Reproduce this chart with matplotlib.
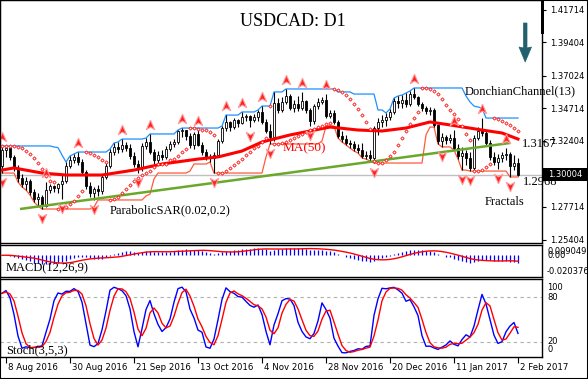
import numpy as np
import pandas as pd
import matplotlib
matplotlib.use("Agg")
import matplotlib.pyplot as plt
from matplotlib.path import Path
from matplotlib.patches import Rectangle, Polygon
import matplotlib.transforms as mtransforms

# ---------------- data (USDCAD D1, 5 Aug 2016 .. 2 Feb 2017) ----------------
opens = [1.3062,1.3175,1.3189,1.3126,1.3048,1.2977,1.2934,1.2956,1.2878,1.2828,
         1.2842,1.2778,1.2892,1.2920,1.2906,1.2934,1.2956,1.3062,1.3104,1.3126,
         1.3090,1.3019,1.2920,1.2870,1.2899,1.2885,1.2984,1.3062,1.3161,1.3197,
         1.3182,1.3211,1.3189,1.3133,1.3076,1.3048,1.3204,1.3232,1.3161,1.3104,
         1.3140,1.3126,1.3182,1.3218,1.3232,1.3310,1.3317,1.3275,1.3211,1.3289,
         1.3211,1.3161,1.3126,1.3119,1.3140,1.3239,1.3331,1.3374,1.3338,1.3388,
         1.3367,1.3409,1.3416,1.3388,1.3409,1.3445,1.3374,1.3310,1.3267,1.3509,
         1.3459,1.3516,1.3558,1.3473,1.3501,1.3473,1.3523,1.3459,1.3381,1.3487,
         1.3516,1.3530,1.3416,1.3438,1.3374,1.3275,1.3253,1.3225,1.3218,1.3189,
         1.3175,1.3133,1.3140,1.3119,1.3331,1.3374,1.3388,1.3409,1.3445,1.3523,
         1.3509,1.3530,1.3501,1.3572,1.3551,1.3501,1.3473,1.3452,1.3459,1.3353,
         1.3239,1.3267,1.3246,1.3260,1.3189,1.3133,1.3154,1.3119,1.3048,1.3260,
         1.3310,1.3296,1.3225,1.3126,1.3090,1.3119,1.3140,1.3147,1.3062,1.3083]
highs = [1.3204,1.3197,1.3192,1.3140,1.3069,1.3005,1.2984,1.2970,1.2899,1.2870,
         1.2856,1.2948,1.2934,1.2927,1.2941,1.2998,1.3090,1.3133,1.3147,1.3161,
         1.3111,1.3033,1.2948,1.2913,1.2927,1.2998,1.3083,1.3182,1.3225,1.3232,
         1.3253,1.3232,1.3218,1.3161,1.3104,1.3225,1.3260,1.3289,1.3182,1.3168,
         1.3175,1.3204,1.3239,1.3253,1.3317,1.3331,1.3317,1.3296,1.3303,1.3317,
         1.3232,1.3182,1.3147,1.3161,1.3253,1.3345,1.3423,1.3381,1.3402,1.3395,
         1.3445,1.3431,1.3423,1.3431,1.3459,1.3487,1.3395,1.3360,1.3587,1.3544,
         1.3551,1.3608,1.3572,1.3530,1.3558,1.3587,1.3530,1.3473,1.3501,1.3544,
         1.3551,1.3572,1.3459,1.3459,1.3388,1.3310,1.3282,1.3246,1.3239,1.3218,
         1.3225,1.3168,1.3175,1.3345,1.3402,1.3423,1.3438,1.3466,1.3544,1.3558,
         1.3565,1.3579,1.3594,1.3615,1.3558,1.3516,1.3487,1.3480,1.3473,1.3360,
         1.3296,1.3282,1.3289,1.3317,1.3218,1.3197,1.3175,1.3161,1.3282,1.3338,
         1.3402,1.3317,1.3246,1.3161,1.3147,1.3161,1.3189,1.3161,1.3140,1.3119]
lows = [1.3012,1.3126,1.3104,1.3026,1.2948,1.2913,1.2892,1.2856,1.2807,1.2778,
        1.2757,1.2771,1.2870,1.2878,1.2870,1.2828,1.2941,1.3048,1.3083,1.3069,
        1.2998,1.2899,1.2842,1.2821,1.2849,1.2863,1.2970,1.3048,1.3140,1.3154,
        1.3161,1.3168,1.3111,1.3055,1.3012,1.3026,1.3182,1.3147,1.3076,1.3076,
        1.3104,1.3111,1.3168,1.3197,1.3218,1.3267,1.3246,1.3189,1.3182,1.3204,
        1.3140,1.3104,1.3090,1.3012,1.3126,1.3225,1.3310,1.3310,1.3324,1.3338,
        1.3360,1.3381,1.3338,1.3374,1.3381,1.3360,1.3296,1.3218,1.3239,1.3438,
        1.3445,1.3501,1.3459,1.3445,1.3452,1.3459,1.3438,1.3345,1.3360,1.3466,
        1.3501,1.3402,1.3402,1.3360,1.3260,1.3232,1.3211,1.3189,1.3168,1.3154,
        1.3119,1.3111,1.3097,1.3083,1.3282,1.3338,1.3345,1.3388,1.3431,1.3473,
        1.3473,1.3480,1.3487,1.3537,1.3487,1.3452,1.3431,1.3423,1.3338,1.3218,
        1.3197,1.3218,1.3225,1.3175,1.3111,1.3033,1.3069,1.3026,1.3033,1.3246,
        1.3275,1.3211,1.3104,1.3069,1.3041,1.3090,1.3104,1.2984,1.3033,1.2991]
closes = [1.3175,1.3189,1.3126,1.3048,1.2977,1.2934,1.2956,1.2878,1.2828,1.2842,
          1.2778,1.2892,1.2920,1.2906,1.2934,1.2956,1.3062,1.3104,1.3126,1.3090,
          1.3019,1.2920,1.2870,1.2899,1.2885,1.2984,1.3062,1.3161,1.3197,1.3182,
          1.3211,1.3189,1.3133,1.3076,1.3048,1.3204,1.3232,1.3161,1.3104,1.3140,
          1.3126,1.3182,1.3218,1.3232,1.3310,1.3317,1.3275,1.3211,1.3289,1.3211,
          1.3161,1.3126,1.3119,1.3140,1.3239,1.3331,1.3374,1.3338,1.3388,1.3367,
          1.3409,1.3416,1.3388,1.3409,1.3445,1.3374,1.3310,1.3267,1.3509,1.3459,
          1.3516,1.3558,1.3473,1.3501,1.3473,1.3523,1.3459,1.3381,1.3487,1.3516,
          1.3530,1.3416,1.3438,1.3374,1.3275,1.3253,1.3225,1.3218,1.3189,1.3175,
          1.3133,1.3140,1.3119,1.3331,1.3374,1.3388,1.3409,1.3445,1.3523,1.3509,
          1.3530,1.3501,1.3572,1.3551,1.3501,1.3473,1.3452,1.3459,1.3353,1.3239,
          1.3267,1.3246,1.3260,1.3189,1.3133,1.3154,1.3119,1.3048,1.3260,1.3310,
          1.3296,1.3225,1.3126,1.3090,1.3119,1.3140,1.3147,1.3062,1.3083,1.30004]

# MA(50) at selected bars
ma_idx = [0, 3, 10, 16, 25, 33, 40, 49, 54, 60, 65, 72, 82, 89, 95, 101, 107, 112, 120, 125, 129]
ma_vals = [1.3033, 1.3048, 1.3012, 1.2998, 1.2998, 1.3033, 1.3076, 1.3111, 1.3126, 1.3168,
           1.3232, 1.3282, 1.3338, 1.3317, 1.3310, 1.3331, 1.3374, 1.3353, 1.3317, 1.3296, 1.3253]

# fractal bars
up_fractals = [0, 11, 19, 30, 37, 45, 49, 56, 60, 65, 71, 75, 81, 103, 113, 120, 126]
down_fractals = [0, 10, 15, 23, 34, 53, 62, 67, 77, 93, 110, 115, 117, 124, 127]

# green support line
trend_idx = [4.5, 127]
trend_vals = [1.2757, 1.3225]

price_ticks = [1.41714, 1.39404, 1.37024, 1.34714, 1.32404, 1.27714, 1.25404]
current_price = 1.30004
date_idx = [1, 17, 33, 49, 65, 81, 97, 113, 129]
date_labels = ["8 Aug 2016", "30 Aug 2016", "21 Sep 2016", "13 Oct 2016", "4 Nov 2016",
               "28 Nov 2016", "20 Dec 2016", "11 Jan 2017", "2 Feb 2017"]

# ---------------- indicators ----------------
O = np.array(opens); Hh = np.array(highs); Ll = np.array(lows); C = np.array(closes)
n = len(C)
x = np.arange(n)
hs, ls, cs = pd.Series(Hh), pd.Series(Ll), pd.Series(C)

don_up = hs.rolling(13, min_periods=1).max().values
don_lo = ls.rolling(13, min_periods=1).min().values

def psar(h, l, step=0.02, mx=0.2):
    s = np.zeros(len(h))
    bull = False
    af = step; ep = l[0]; s[0] = h[0]
    for i in range(1, len(h)):
        v = s[i-1] + af * (ep - s[i-1])
        if bull:
            v = min(v, l[i-1], l[max(i-2, 0)])
            if l[i] < v:
                bull = False; v = ep; ep = l[i]; af = step
            elif h[i] > ep:
                ep = h[i]; af = min(af + step, mx)
        else:
            v = max(v, h[i-1], h[max(i-2, 0)])
            if h[i] > v:
                bull = True; v = ep; ep = h[i]; af = step
            elif l[i] < ep:
                ep = l[i]; af = min(af + step, mx)
        s[i] = v
    return s

sar = psar(Hh, Ll)

ema12 = cs.ewm(span=12, adjust=False).mean()
ema26 = cs.ewm(span=26, adjust=False).mean()
macd = (ema12 - ema26).values
macd_sig = pd.Series(macd).rolling(9, min_periods=1).mean().values

ll5 = ls.rolling(5, min_periods=1).min()
hh5 = hs.rolling(5, min_periods=1).max()
num = (cs - ll5).rolling(3, min_periods=1).sum()
den = (hh5 - ll5).rolling(3, min_periods=1).sum()
st_main = (100 * num / den).values
st_sig = pd.Series(st_main).rolling(3, min_periods=1).mean().values

# ---------------- figure ----------------
W, H = 588, 379
fig = plt.figure(figsize=(W/100, H/100), dpi=100)

def rect(x0, y0, x1, y1):
    return [x0/W, 1 - y1/H, (x1-x0)/W, (y1-y0)/H]

def fx(v): return v / W
def fy(v): return 1 - v / H

serif = "Liberation Serif"
PX = 0.000709
TOP = 1.42388

ax = fig.add_axes(rect(0, 0, 542, 243))
ax.set_xlim(-0.5, 135)
ax.set_ylim(TOP - PX*243, TOP)

ax.axhline(current_price, color="#c0c0c0", lw=1.0, zorder=1)
ax.plot(x, don_up, color="#1e90ff", lw=0.9, zorder=2)
ax.plot(x, don_lo, color="#ff5a3c", lw=0.9, zorder=2)
ax.vlines(x, Ll, Hh, color="black", lw=0.8, zorder=3)
up = C >= O
body_h = np.maximum(np.abs(C - O), 0.00015)
ax.bar(x, body_h, bottom=np.minimum(O, C), width=0.62,
       color=np.where(up, "white", "black"), edgecolor="black", linewidth=0.6, zorder=4)
ax.plot(trend_idx, trend_vals, color="#6aa82c", lw=1.8, zorder=5, solid_capstyle="butt")
ax.plot(ma_idx, ma_vals, color="#ff0000", lw=2.2, zorder=6, solid_joinstyle="round")
ax.plot(x, sar, ls="none", marker="D", ms=1.7, mfc="white", mec="#ff1010", mew=0.6, zorder=7)

up_marker = Path([(0, 1), (0.8, -0.8), (0, -0.3), (-0.8, -0.8), (0, 1)],
                 [Path.MOVETO, Path.LINETO, Path.LINETO, Path.LINETO, Path.CLOSEPOLY])
down_marker = Path([(0, -1), (0.8, 0.8), (0, 0.3), (-0.8, 0.8), (0, -1)],
                   [Path.MOVETO, Path.LINETO, Path.LINETO, Path.LINETO, Path.CLOSEPOLY])
ax.plot(up_fractals, Hh[up_fractals] + 0.0064, ls="none", marker=up_marker, ms=7.5,
        mfc="#ff2020", mec="#ff9a9a", mew=0.8, zorder=8)
ax.plot(down_fractals, Ll[down_fractals] - 0.0064, ls="none", marker=down_marker, ms=7.5,
        mfc="#ff2020", mec="#ff9a9a", mew=0.8, zorder=8)

ax.set_xticks([])
ax.yaxis.set_ticks_position("right")
ax.set_yticks(price_ticks)
ax.set_yticklabels([f"{v:.5f}" for v in price_ticks])
ax.tick_params(axis="y", direction="out", length=3, width=0.8, pad=3, labelsize=6, colors="black")
for s in ax.spines.values():
    s.set_linewidth(1.0)

# ---- MACD panel ----
am = fig.add_axes(rect(0, 245, 542, 277))
am.set_xlim(-0.5, 135)
am.set_ylim(-0.0215, 0.0102)
am.vlines(x, 0, macd, color="#0000ff", lw=0.9)
am.plot(x, macd_sig, color="#ff0000", lw=1.0)
am.set_xticks([]); am.set_yticks([])
for s in am.spines.values():
    s.set_linewidth(1.0)

# ---- Stochastic panel ----
ast = fig.add_axes(rect(0, 279, 542, 357))
ast.set_xlim(-0.5, 135)
ast.set_ylim(0, 104)
for lv in (20, 80):
    ast.axhline(lv, color="#b0b0b0", lw=0.8, dashes=(3, 3))
ast.plot(x, st_main, color="#0000ff", lw=1.0)
ast.plot(x, st_sig, color="#ff0000", lw=1.0)
ast.set_yticks([])
ast.set_xticks(date_idx)
ast.tick_params(axis="x", direction="out", length=4, width=0.8, labelbottom=False)
for s in ast.spines.values():
    s.set_linewidth(1.0)
off = mtransforms.ScaledTranslation(2/100, -10/100, fig.dpi_scale_trans)
for i, lab in zip(date_idx, date_labels):
    ast.text(i, 0, lab, transform=ast.get_xaxis_transform() + off, ha="left", va="center",
             fontsize=6.2, family="DejaVu Sans")

# ---------------- texts & decorations ----------------
fig.text(fx(240), fy(22), "USDCAD: D1", fontsize=13, family=serif, va="center", ha="left")
fig.text(fx(283), fy(148), "MA(50)", fontsize=9.5, family=serif, color="#ff0000", va="center")
fig.text(fx(110), fy(210), "ParabolicSAR(0.02,0.2)", fontsize=9, family=serif, va="center")
fig.text(fx(465), fy(91), "DonchianChannel(13)", fontsize=9, family=serif, va="center")
fig.text(fx(522), fy(144), "1.3167", fontsize=9, family=serif, va="center")
fig.text(fx(523), fy(182), "1.2968", fontsize=9, family=serif, va="center")
fig.text(fx(485), fy(202), "Fractals", fontsize=9, family=serif, va="center")
fig.text(fx(6), fy(268), "MACD(12,26,9)", fontsize=9, family=serif, va="center")
fig.text(fx(6), fy(350), "Stoch(3,5,3)", fontsize=9, family=serif, va="center")

# current price box
fig.add_artist(Rectangle((fx(543), fy(181)), fx(45), 13/H, transform=fig.transFigure,
                         facecolor="black", edgecolor="none"))
fig.text(fx(548), fy(174.5), f"{current_price:.5f}", fontsize=6, color="white", va="center")
# scroll marker on price axis
fig.add_artist(Rectangle((fx(540.5), fy(34)), fx(3.5), 34/H, transform=fig.transFigure,
                         facecolor="black", edgecolor="none"))

# MACD labels
fig.text(fx(547), fy(251.5), "0.009049", fontsize=6, va="center")
fig.text(fx(547), fy(256), "0.00", fontsize=6, va="center")
fig.text(fx(547), fy(271), "-0.020376", fontsize=6, va="center")
# Stoch labels
for lab, yy in (("100", 287), ("80", 297), ("20", 342), ("0", 350)):
    fig.text(fx(547), fy(yy), lab, fontsize=6, va="center")

# downward arrow
arrow_pts = [(523.5, 23), (527, 23), (527, 48), (531.5, 47), (525.2, 62), (519, 47), (523.5, 48)]
fig.add_artist(Polygon([(fx(a), fy(b)) for a, b in arrow_pts], closed=True,
                       transform=fig.transFigure, facecolor="#22606e", edgecolor="#22606e", lw=0.5))

# outer border
fig.add_artist(Rectangle((0, 0), 1, 1, transform=fig.transFigure, fill=False,
                         edgecolor="black", lw=1.5))

fig.savefig("out.png", dpi=100)
